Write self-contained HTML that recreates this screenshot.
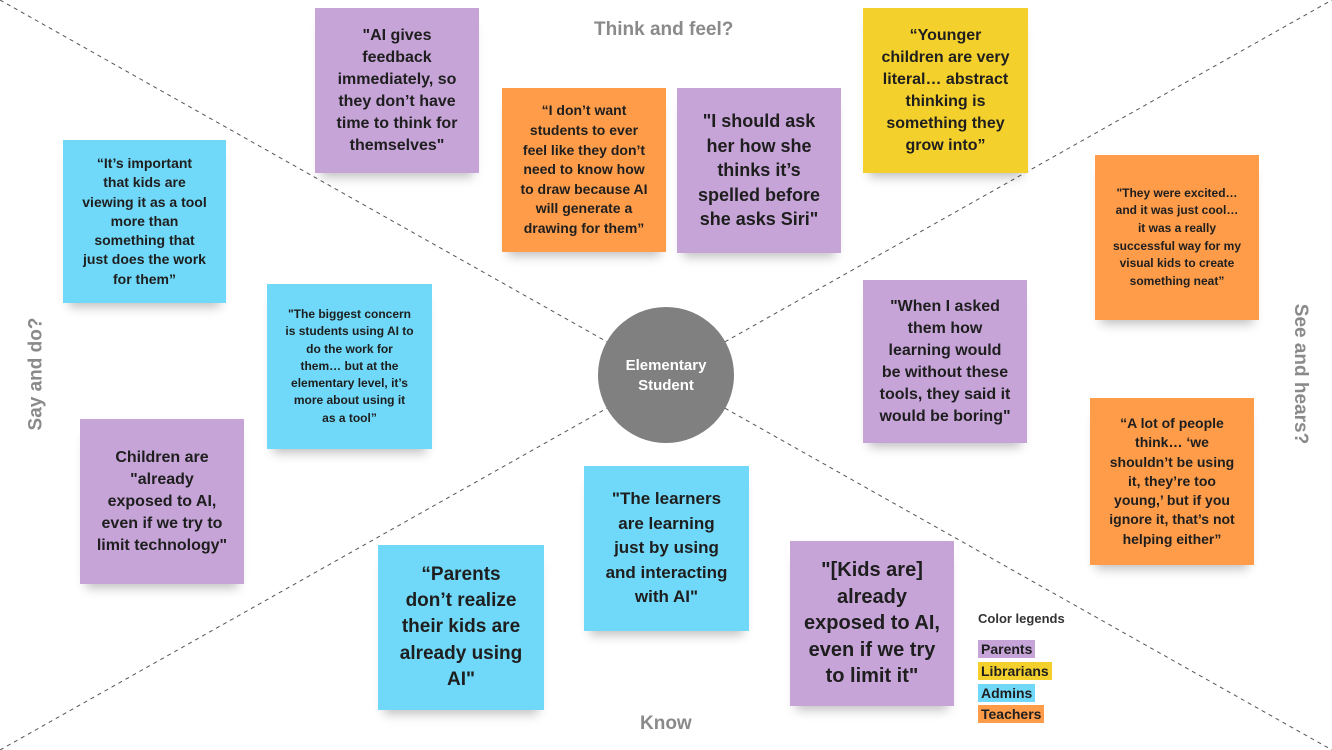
<!DOCTYPE html>
<html><head><meta charset="utf-8"><style>
body{margin:0;width:1332px;height:750px;background:#fff;position:relative;overflow:hidden;font-family:"Liberation Sans",sans-serif}
.n{position:absolute;display:flex;align-items:center;justify-content:center;text-align:center;font-weight:bold;color:#1e1e1e;box-sizing:border-box;padding:0;white-space:nowrap;box-shadow:0 10px 10px -6px rgba(0,0,0,.25)}
.p{background:#c6a4d8}.o{background:#fe9c4a}.y{background:#f4d02c}.b{background:#70d8f8}
.lab{position:absolute;color:#8a8a8a;font-weight:bold;font-size:19px;white-space:nowrap}
.lg{position:absolute;left:978px;font-size:14px;font-weight:bold;color:#1e1e1e;padding:0 3px;line-height:18px}
</style></head><body>
<svg width="1332" height="750" style="position:absolute;left:0;top:0">
<line x1="0" y1="0" x2="1332" y2="750" stroke="#555" stroke-width="1" stroke-dasharray="4,4"/>
<line x1="0" y1="750" x2="1332" y2="0" stroke="#555" stroke-width="1" stroke-dasharray="4,4"/>
<circle cx="666" cy="375" r="68" fill="#808080"/>
<text x="666" y="370" fill="#fff" font-family="Liberation Sans" font-weight="bold" font-size="15" text-anchor="middle">Elementary</text>
<text x="666" y="390" fill="#fff" font-family="Liberation Sans" font-weight="bold" font-size="15" text-anchor="middle">Student</text>
</svg>
<div class="lab" style="left:594px;top:19px">Think and feel?</div>
<div class="lab" style="left:640px;top:713px">Know</div>
<div class="lab" style="left:-20px;top:363px;transform:rotate(-90deg)">Say and do?</div>
<div class="lab" style="left:1230px;top:363px;transform:rotate(90deg)">See and hears?</div>

<div class="n p" style="left:315px;top:8px;width:164px;height:165px;font-size:16px;line-height:22px">"AI gives<br>feedback<br>immediately, so<br>they don’t have<br>time to think for<br>themselves"</div>
<div class="n o" style="left:502px;top:88px;width:164px;height:164px;font-size:14px;line-height:19.6px">“I don’t want<br>students to ever<br>feel like they don’t<br>need to know how<br>to draw because AI<br>will generate a<br>drawing for them”</div>
<div class="n p" style="left:677px;top:88px;width:164px;height:165px;font-size:18px;line-height:24.5px">"I should ask<br>her how she<br>thinks it’s<br>spelled before<br>she asks Siri"</div>
<div class="n y" style="left:863px;top:8px;width:165px;height:165px;font-size:16px;line-height:22px">“Younger<br>children are very<br>literal… abstract<br>thinking is<br>something they<br>grow into”</div>
<div class="n b" style="left:63px;top:140px;width:163px;height:163px;font-size:14px;line-height:19.3px">“It’s important<br>that kids are<br>viewing it as a tool<br>more than<br>something that<br>just does the work<br>for them”</div>
<div class="n o" style="left:1095px;top:155px;width:164px;height:165px;font-size:12px;line-height:17.6px">"They were excited…<br>and it was just cool…<br>it was a really<br>successful way for my<br>visual kids to create<br>something neat”</div>
<div class="n b" style="left:267px;top:284px;width:165px;height:165px;font-size:12px;line-height:17.3px">"The biggest concern<br>is students using AI to<br>do the work for<br>them… but at the<br>elementary level, it’s<br>more about using it<br>as a tool”</div>
<div class="n p" style="left:863px;top:280px;width:164px;height:163px;font-size:16px;line-height:22px">"When I asked<br>them how<br>learning would<br>be without these<br>tools, they said it<br>would be boring"</div>
<div class="n p" style="left:80px;top:419px;width:164px;height:165px;font-size:16px;line-height:22px">Children are<br>"already<br>exposed to AI,<br>even if we try to<br>limit technology"</div>
<div class="n o" style="left:1090px;top:398px;width:164px;height:167px;font-size:14px;line-height:19.3px">“A lot of people<br>think… ‘we<br>shouldn’t be using<br>it, they’re too<br>young,’ but if you<br>ignore it, that’s not<br>helping either”</div>
<div class="n b" style="left:584px;top:466px;width:165px;height:165px;font-size:17px;line-height:24.5px">"The learners<br>are learning<br>just by using<br>and interacting<br>with AI"</div>
<div class="n b" style="left:378px;top:545px;width:166px;height:165px;font-size:19px;line-height:26.3px">“Parents<br>don’t realize<br>their kids are<br>already using<br>AI"</div>
<div class="n p" style="left:790px;top:541px;width:164px;height:165px;font-size:20px;line-height:26.5px">"[Kids are]<br>already<br>exposed to AI,<br>even if we try<br>to limit it"</div>

<div style="position:absolute;left:978px;top:611px;font-size:13px;font-weight:bold;color:#333">Color legends</div>
<div class="lg p" style="top:640px">Parents</div>
<div class="lg y" style="top:662px">Librarians</div>
<div class="lg b" style="top:684px">Admins</div>
<div class="lg o" style="top:705px">Teachers</div>
</body></html>
